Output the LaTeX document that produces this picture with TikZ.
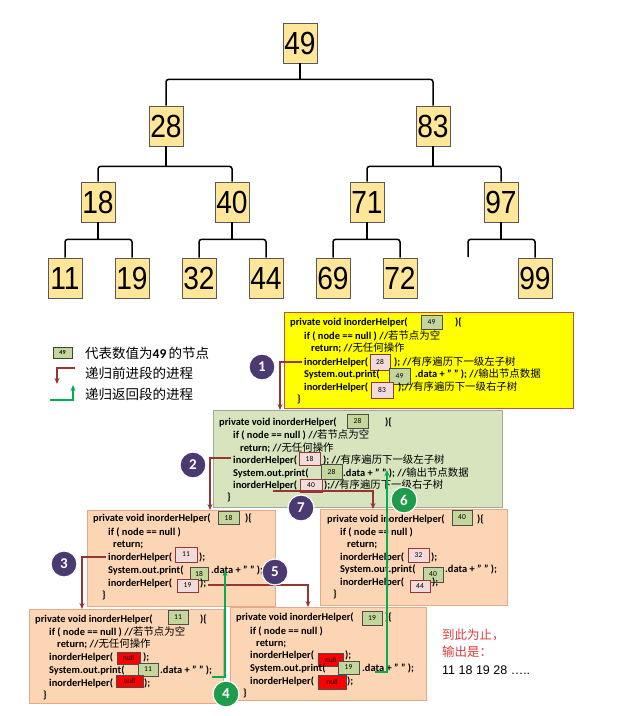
\documentclass[tikz,border=0pt]{standalone}
\usepackage{fontspec}
\setmainfont{Carlito}
\newfontfamily\cjk{Noto Sans CJK SC}
\newfontfamily\treefont[FakeStretch=0.88]{Liberation Sans}
\newfontfamily\arialf{Liberation Sans}
\usetikzlibrary{arrows.meta}
\definecolor{treefill}{HTML}{FFE699}
\definecolor{yellowbox}{HTML}{FFFF00}
\definecolor{yellowedge}{HTML}{C0504D}
\definecolor{greenbox}{HTML}{D7E4BD}
\definecolor{greenedge}{HTML}{9FA89A}
\definecolor{orangebox}{HTML}{FCD5B5}
\definecolor{orangeedge}{HTML}{E4A98A}
\definecolor{vgreen}{HTML}{C3D69B}
\definecolor{vpink}{HTML}{F2DCDB}
\definecolor{vred}{HTML}{953735}
\definecolor{arrred}{HTML}{943634}
\definecolor{arrgreen}{HTML}{00B050}
\definecolor{cpurple}{HTML}{4B3A72}
\definecolor{cgreen}{HTML}{1E9C4B}
\definecolor{txtred}{HTML}{E03C3C}
\newcommand{\cn}[1]{{\cjk\mdseries #1}}
\tikzset{
  tnode/.style={draw=black!65, fill=treefill, line width=0.8, minimum width=34, minimum height=40, inner sep=0, font=\treefont\fontsize{32}{32}\selectfont},
  tline/.style={line width=1.5, rounded corners=2.5},
  code/.style={anchor=base west, inner sep=0, font=\fontsize{10.4}{12}\selectfont\bfseries},
  vg/.style={draw=black!70, fill=vgreen, line width=0.8, inner sep=0, font=\fontsize{7.5}{7.5}\selectfont},
  vp/.style={draw=vred, fill=vpink, line width=0.8, inner sep=0, font=\fontsize{7.5}{7.5}\selectfont},
  vn/.style={draw=black!70, fill=red, line width=0.8, inner sep=0, font=\fontsize{7.5}{7.5}\selectfont},
  sz/.style 2 args={minimum width=#1, minimum height=#2},
  redarr/.style={draw=arrred, line width=1.3, -{Stealth[length=6pt,width=5pt]}},
  grnarr/.style={draw=arrgreen, line width=1.6, -{Stealth[length=6pt,width=5pt]}},
  circ/.style={circle, fill=#1, draw=white, line width=1.2, minimum size=26, inner sep=0, text=white, font=\fontsize{15}{15}\selectfont\bfseries},
  legtext/.style={anchor=west, inner sep=0, font=\cjk\fontsize{13.5}{14}\selectfont},
}
\begin{document}
\begin{tikzpicture}[x=1pt,y=-1pt]
\useasboundingbox[fill=white] (0,0) rectangle (641,716);

% ---------------- tree ----------------
\node[tnode] (n49) at (300,43) {49};
\node[tnode] (n28) at (166,126) {28};
\node[tnode] (n83) at (433,126) {83};
\node[tnode] (n18) at (98,202) {18};
\node[tnode] (n40) at (232,202) {40};
\node[tnode] (n71) at (367,202) {71};
\node[tnode] (n97) at (501,202) {97};
\node[tnode] (n11) at (65,278) {11};
\node[tnode] (n19) at (132,278) {19};
\node[tnode] (n32) at (199,278) {32};
\node[tnode] (n44) at (266,278) {44};
\node[tnode] (n69) at (333,278) {69};
\node[tnode] (n72) at (400,278) {72};
\node[tnode] (n99) at (535,278) {99};
\coordinate (e97) at (468,257);

\draw[line width=1.5] (n49.south) -- ++(0,16) coordinate (j49);
\draw[tline] (n28.north) |- (j49) -| (n83.north);
\draw[line width=1.5] (n28.south) -- ++(0,20) coordinate (j28);
\draw[tline] (n18.north) |- (j28) -| (n40.north);
\draw[line width=1.5] (n83.south) -- ++(0,20) coordinate (j83);
\draw[tline] (n71.north) |- (j83) -| (n97.north);
\draw[line width=1.5] (n18.south) -- ++(0,17) coordinate (j18);
\draw[tline] (n11.north) |- (j18) -| (n19.north);
\draw[line width=1.5] (n40.south) -- ++(0,17) coordinate (j40);
\draw[tline] (n32.north) |- (j40) -| (n44.north);
\draw[line width=1.5] (n71.south) -- ++(0,17) coordinate (j71);
\draw[tline] (n69.north) |- (j71) -| (n72.north);
\draw[line width=1.5] (n97.south) -- ++(0,17) coordinate (j97);
\draw[tline] (e97) |- (j97) -| (n99.north);

% ---------------- legend ----------------
\node[vg, sz={19}{11}, draw=black!75, font=\fontsize{6}{6}\selectfont\bfseries] (lg49) at (62.5,353) {49};
\node[legtext] (lt1) at (85,353) {代表数值为{\rmfamily\bfseries 49\,}的节点};
\coordinate (lr1) at (75,368);
\coordinate (lr2) at (57,384);
\draw[redarr] (lr1) -| (lr2);
\node[legtext] (lt2) at (85,373) {递归前进段的进程};
\coordinate (lg1) at (50,400);
\coordinate (lg2) at (73,385);
\draw[grnarr] (lg1) -| (lg2);
\node[legtext] (lt3) at (85,394) {递归返回段的进程};

% ---------------- box 1 (49) ----------------
\node[draw=yellowedge, fill=yellowbox, line width=0.8, anchor=north west, minimum width=289, minimum height=96, inner sep=0] (B1) at (284,312) {};
\node[code] (b1l1) at (290,325.5) {private void inorderHelper(};
\node[vg, sz={21}{14}] (b1h) at (431.5,322) {49};
\node[code] (b1l1e) at (455,325.5) {)\{};
\node[code] (b1l2) at (304,339.5) {if ( node == null ) //\cn{若节点为空}};
\node[code] (b1l3) at (311,351.5) {return; //\cn{无任何操作}};
\node[code] (b1l4) at (304,365.5) {inorderHelper(};
\node[vp, sz={20}{16}] (b1a) at (380,362) {28};
\node[code] (b1l4e) at (394,365.5) {); //\cn{有序遍历下一级左子树}};
\node[code] (b1l5) at (304,377.5) {System.out.print(};
\node[vg, sz={21}{16}] (b1b) at (399.5,376) {49};
\node[code] (b1l5e) at (415,377.5) {.data + " " ); //\cn{输出节点数据}};
\node[code] (b1l6) at (304,390.5) {inorderHelper(};
\node[vp, sz={22}{16}] (b1c) at (382,390) {83};
\node[code] (b1l6e) at (398,390.5) {);//\cn{有序遍历下一级右子树}};
\node[code] (b1l7) at (297,402.5) {\}};

% ---------------- box 2 (28) ----------------
\node[draw=greenedge, fill=greenbox, line width=0.8, anchor=north west, minimum width=289, minimum height=97, inner sep=0] (B2) at (213,410) {};
\node[code] (b2l1) at (219,425.5) {private void inorderHelper(};
\node[vg, sz={21}{14}] (b2h) at (357.5,421) {28};
\node[code] (b2l1e) at (385,425.5) {)\{};
\node[code] (b2l2) at (233,438.5) {if ( node == null ) //\cn{若节点为空}};
\node[code] (b2l3) at (240,451.5) {return; //\cn{无任何操作}};
\node[code] (b2l4) at (233,463.5) {inorderHelper(};
\node[vp, sz={21}{13}] (b2a) at (309.5,459) {18};
\node[code] (b2l4e) at (323,463.5) {); //\cn{有序遍历下一级左子树}};
\node[code] (b2l5) at (233,476.5) {System.out.print(};
\node[vg, sz={21}{15}] (b2b) at (331.5,472) {28};
\node[code] (b2l5e) at (343,476.5) {.data + " " ); //\cn{输出节点数据}};
\node[code] (b2l6) at (233,488.5) {inorderHelper(};
\node[vp, sz={22}{13}] (b2c) at (311,485.5) {40};
\node[code] (b2l6e) at (324,488.5) {);//\cn{有序遍历下一级右子树}};
\node[code] (b2l7) at (227,500.5) {\}};

% ---------------- box 3 (18) ----------------
\node[draw=orangeedge, fill=orangebox, line width=0.8, anchor=north west, minimum width=188, minimum height=96, inner sep=0] (B3) at (87,510) {};
\node[code] (b3l1) at (93,521.5) {private void inorderHelper(};
\node[vg, sz={21}{13}] (b3h) at (228.5,518) {18};
\node[code] (b3l1e) at (245,521.5) {)\{};
\node[code] (b3l2) at (108,535.5) {if ( node == null )};
\node[code] (b3l3) at (113,547.5) {return;};
\node[code] (b3l4) at (108,560.5) {inorderHelper(};
\node[vp, sz={22}{15}] (b3a) at (186,554.5) {11};
\node[code] (b3l4e) at (199,560.5) {);};
\node[code] (b3l5) at (108,573.5) {System.out.print(};
\node[vg, sz={18}{13}] (b3b) at (199,573.5) {18};
\node[code] (b3l5e) at (211,573.5) {.data + " " );};
\node[code] (b3l6) at (108,586.5) {inorderHelper(};
\node[vp, sz={21}{13}] (b3c) at (187.5,585.5) {19};
\node[code] (b3l6e) at (200,586.5) {);};
\node[code] (b3l7) at (102,598.5) {\}};

% ---------------- box 4 (40) ----------------
\node[draw=orangeedge, fill=orangebox, line width=0.8, anchor=north west, minimum width=187, minimum height=96, inner sep=0] (B4) at (320,509) {};
\node[code] (b4l1) at (327,522.5) {private void inorderHelper(};
\node[vg, sz={20}{15}] (b4h) at (462,517.5) {40};
\node[code] (b4l1e) at (477,522.5) {)\{};
\node[code] (b4l2) at (340,535.5) {if ( node == null )};
\node[code] (b4l3) at (347,547.5) {return;};
\node[code] (b4l4) at (340,560.5) {inorderHelper(};
\node[vp, sz={21}{14}] (b4a) at (418.5,555) {32};
\node[code] (b4l4e) at (431,560.5) {);};
\node[code] (b4l5) at (340,572.5) {System.out.print(};
\node[vg, sz={20}{15}] (b4b) at (433,574.5) {40};
\node[code] (b4l5e) at (445,572.5) {.data + " " );};
\node[code] (b4l6) at (340,585.5) {inorderHelper(};
\node[vp, sz={20}{12}] (b4c) at (420,586) {44};
\node[code] (b4l6e) at (432,585.5) {);};
\node[code] (b4l7) at (333,597.5) {\}};

% ---------------- box 5 (11) ----------------
\node[draw=orangeedge, fill=orangebox, line width=0.8, anchor=north west, minimum width=194, minimum height=94, inner sep=0] (B5) at (29,609) {};
\node[code] (b5l1) at (35,622.5) {private void inorderHelper(};
\node[vg, sz={20}{14}] (b5h) at (178,617) {11};
\node[code] (b5l1e) at (200,622.5) {)\{};
\node[code] (b5l2) at (49,635.5) {if ( node == null ) //\cn{若节点为空}};
\node[code] (b5l3) at (57,647.5) {return; //\cn{无任何操作}};
\node[code] (b5l4) at (49,660.5) {inorderHelper(};
\node[vn, sz={23}{12}] (b5a) at (128.5,658) {null};
\node[code] (b5l4e) at (143,660.5) {);};
\node[code] (b5l5) at (49,673.5) {System.out.print(};
\node[vg, sz={20}{13}] (b5b) at (148,669.5) {11};
\node[code] (b5l5e) at (160,673.5) {.data + " " );};
\node[code] (b5l6) at (49,686.5) {inorderHelper(};
\node[vn, sz={27}{12}] (b5c) at (129.5,681) {null};
\node[code] (b5l6e) at (144,686.5) {);};
\node[code] (b5l7) at (43,698.5) {\}};

% ---------------- box 6 (19) ----------------
\node[draw=orangeedge, fill=orangebox, line width=0.8, anchor=north west, minimum width=196, minimum height=93, inner sep=0] (B6) at (230,607) {};
\node[code] (b6l1) at (236,620.5) {private void inorderHelper(};
\node[vg, sz={20}{14}] (b6h) at (372,618) {19};
\node[code] (b6l1e) at (385,620.5) {)\{};
\node[code] (b6l2) at (250,634.5) {if ( node == null )};
\node[code] (b6l3) at (256,646.5) {return;};
\node[code] (b6l4) at (250,658.5) {inorderHelper(};
\node[vn, sz={25}{13}] (b6a) at (330.5,659.5) {null};
\node[code] (b6l4e) at (345,658.5) {);};
\node[code] (b6l5) at (250,671.5) {System.out.print(};
\node[vg, sz={21}{13}] (b6b) at (348.5,667.5) {19};
\node[code] (b6l5e) at (362,671.5) {.data + " " );};
\node[code] (b6l6) at (250,684.5) {inorderHelper(};
\node[vn, sz={28}{14}] (b6c) at (332,682) {null};
\node[code] (b6l6e) at (347,684.5) {);};
\node[code] (b6l7) at (243,696.5) {\}};

% ---------------- red arrows (descending) ----------------
\coordinate (s1) at (302,362);
\draw[redarr] (s1) -| (B2.north -| 280,0);
\coordinate (s2) at (231,458);
\draw[redarr] (s2) -| (B3.north -| 210,0);
\coordinate (s3) at (106,557);
\draw[redarr] (s3) -| (B5.north -| 82,0);
\coordinate (s7) at (273,491);
\draw[redarr] (s7) -| (B4.north -| 373,0);
\coordinate (s5) at (208,585);
\draw[redarr] (s5) -| (B6.north -| 308,0);

% ---------------- green arrows (returning) ----------------
\coordinate (r4s) at (212,677);
\coordinate (r4e) at (225,570);
\draw[grnarr] (r4s) -| (r4e);
\coordinate (r6s) at (375,672);
\coordinate (r6e) at (387,470);
\draw[grnarr] (r6s) -| (r6e);

% ---------------- step circles ----------------
\node[circ=cpurple] (c1) at (262,367) {1};
\node[circ=cpurple] (c2) at (193,465) {2};
\node[circ=cpurple] (c3) at (64,564) {3};
\node[circ=cgreen] (c4) at (226,694) {4};
\node[circ=cpurple] (c5) at (275,572) {5};
\node[circ=cgreen] (c6) at (404,500) {6};
\node[circ=cpurple] (c7) at (301,508) {7};

% ---------------- output note ----------------
\node[anchor=west, inner sep=0, text=txtred, font=\cjk\fontsize{12.5}{13}\selectfont] (o1) at (442,635) {到此为止，};
\node[anchor=west, inner sep=0, text=txtred, font=\cjk\fontsize{12.5}{13}\selectfont] (o2) at (442,652) {输出是：};
\node[anchor=west, inner sep=0, font=\arialf\fontsize{12.5}{13}\selectfont] (o3) at (442,670) {11 18 19 28 …..};
\end{tikzpicture}
\end{document}
